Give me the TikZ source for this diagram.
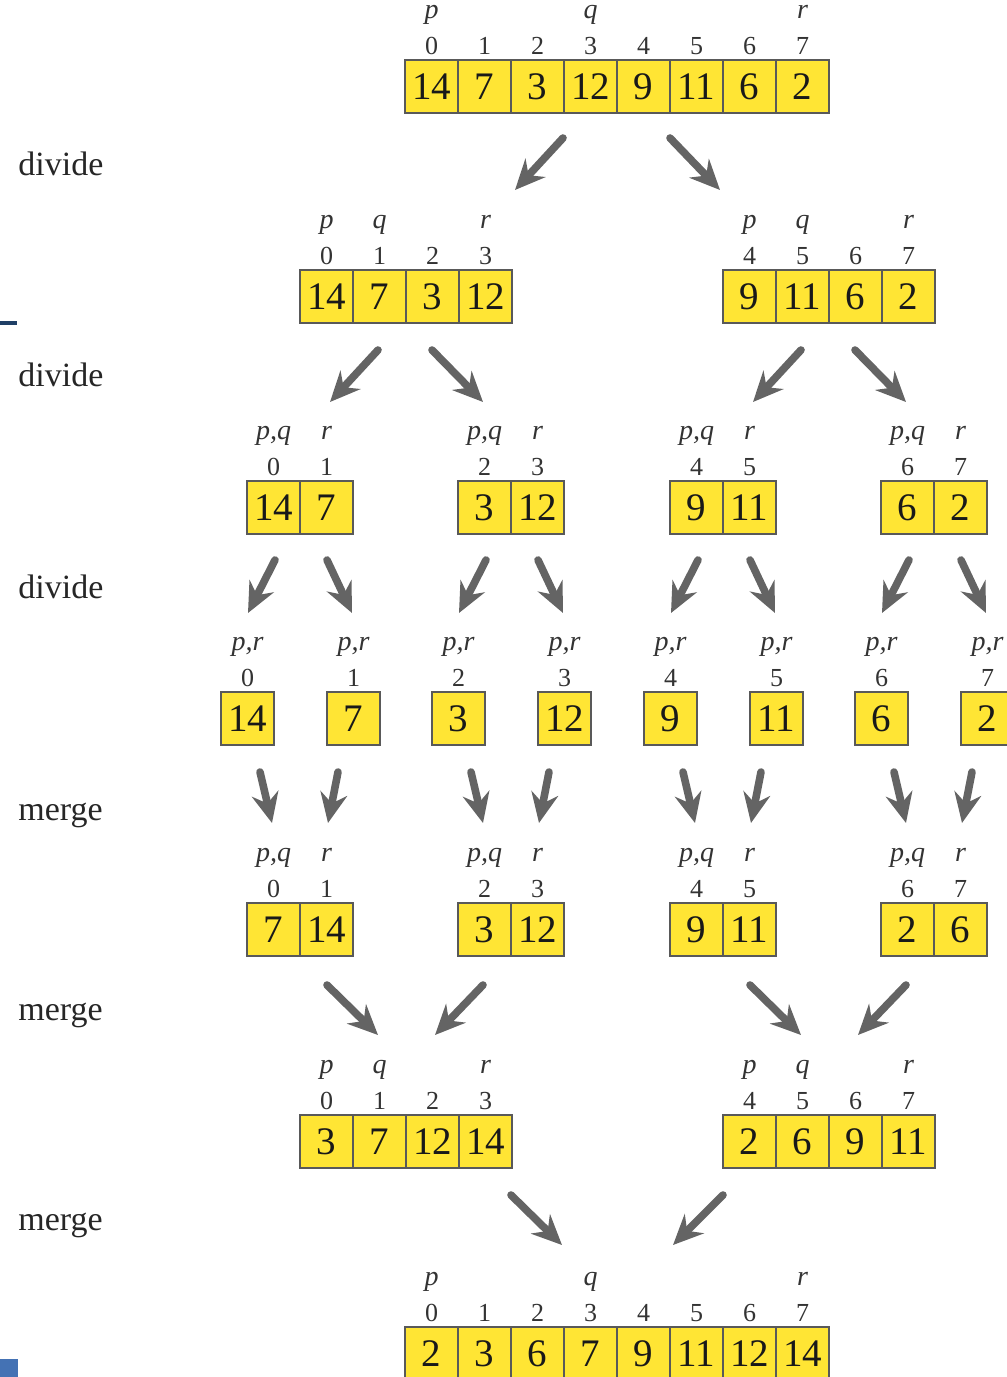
\documentclass[tikz,border=0pt]{standalone}
\usepackage{fontspec}
\setmainfont{Liberation Serif}
\usetikzlibrary{arrows.meta}
\definecolor{cellyellow}{HTML}{FFE534}
\definecolor{arrgray}{HTML}{646464}
\definecolor{navyline}{HTML}{1F3F66}
\definecolor{bluebox}{HTML}{4472B4}
\tikzset{
  cell/.style={draw=black!65, line width=0.7pt, fill=cellyellow, minimum width=26.5pt,
    minimum height=26.5pt, inner sep=0pt, font=\fontsize{19.5}{19.5}\selectfont, text=black!90},
  idx/.style={font=\fontsize{13}{13}\selectfont, text=black!80, inner sep=0pt, anchor=base},
  lab/.style={font=\fontsize{14}{14}\selectfont\itshape, text=black!80, inner sep=0pt, anchor=base},
  side/.style={font=\fontsize{17}{17}\selectfont, text=black!85, anchor=base west, inner sep=0pt},
  bigarrow/.style={draw=arrgray, line width=3.8pt, line cap=round,
    -{Stealth[length=15pt,width=13.5pt,inset=5pt]}},
}
% #1 name, #2 left x, #3 top y, #4 values, #5 first index, #6 labels
\newcommand{\drawarr}[6]{%
  \foreach \v [count=\i from 0] in {#4} {
    \pgfmathtruncatemacro\ix{#5+\i}
    \node[cell] (#1-\i) at ({#2+26.5+53*\i}, {#3+26.5}) {\v};
    \node[idx] (#1-i\i) at ({#2+26.5+53*\i}, {#3-6}) {\ix};
  }
  \foreach \k/\t in {#6} {
    \node[lab] (#1-l\k) at ({#2+26.5+53*\k}, {#3-42}) {\t};
  }
}
\begin{document}
\begin{tikzpicture}[x=0.5pt, y=-0.5pt]
\useasboundingbox (0,0) rectangle (1007,1377);
\clip (0,0) rectangle (1007,1377);

% artifacts at left edge
\fill[navyline] (0,321) rectangle (17,325);
\fill[bluebox] (0,1359) rectangle (18,1377);

% side labels
\node[side] (d1) at (18,175) {divide};
\node[side] (d2) at (18,386) {divide};
\node[side] (d3) at (18,598) {divide};
\node[side] (m1) at (18,820) {merge};
\node[side] (m2) at (18,1020) {merge};
\node[side] (m3) at (18,1230) {merge};

% level 1
\drawarr{A}{405}{60}{14,7,3,12,9,11,6,2}{0}{0/p,3/q,7/r}
% level 2
\drawarr{BL}{300}{270}{14,7,3,12}{0}{0/p,1/q,3/r}
\drawarr{BR}{723}{270}{9,11,6,2}{4}{0/p,1/q,3/r}
% level 3
\drawarr{C1}{247}{481}{14,7}{0}{0/{p,q},1/r}
\drawarr{C2}{458}{481}{3,12}{2}{0/{p,q},1/r}
\drawarr{C3}{670}{481}{9,11}{4}{0/{p,q},1/r}
\drawarr{C4}{881}{481}{6,2}{6}{0/{p,q},1/r}
% level 4
\drawarr{D1}{221}{692}{14}{0}{0/{p,r}}
\drawarr{D2}{327}{692}{7}{1}{0/{p,r}}
\drawarr{D3}{432}{692}{3}{2}{0/{p,r}}
\drawarr{D4}{538}{692}{12}{3}{0/{p,r}}
\drawarr{D5}{644}{692}{9}{4}{0/{p,r}}
\drawarr{D6}{750}{692}{11}{5}{0/{p,r}}
\drawarr{D7}{855}{692}{6}{6}{0/{p,r}}
\drawarr{D8}{961}{692}{2}{7}{0/{p,r}}
% level 5
\drawarr{E1}{247}{903}{7,14}{0}{0/{p,q},1/r}
\drawarr{E2}{458}{903}{3,12}{2}{0/{p,q},1/r}
\drawarr{E3}{670}{903}{9,11}{4}{0/{p,q},1/r}
\drawarr{E4}{881}{903}{2,6}{6}{0/{p,q},1/r}
% level 6
\drawarr{FL}{300}{1115}{3,7,12,14}{0}{0/p,1/q,3/r}
\drawarr{FR}{723}{1115}{2,6,9,11}{4}{0/p,1/q,3/r}
% level 7
\drawarr{G}{405}{1327}{2,3,6,7,9,11,12,14}{0}{0/p,3/q,7/r}

% arrows level 1 -> 2
\coordinate (a1s) at (563,138); \coordinate (a1e) at (515,190);
\coordinate (a2s) at (670,138); \coordinate (a2e) at (720,190);
\draw[bigarrow] (a1s) -- (a1e);
\draw[bigarrow] (a2s) -- (a2e);

% arrows level 2 -> 3 and level 5 -> 6
\foreach \o [count=\n] in {0,423} {
  \coordinate (b\n ls) at (378+\o,350); \coordinate (b\n le) at (330+\o,402);
  \coordinate (b\n rs) at (432+\o,350); \coordinate (b\n re) at (483+\o,402);
  \draw[bigarrow] (b\n ls) -- (b\n le);
  \draw[bigarrow] (b\n rs) -- (b\n re);
  \coordinate (e\n ls) at (327+\o,985); \coordinate (e\n le) at (378+\o,1035);
  \coordinate (e\n rs) at (483+\o,985); \coordinate (e\n re) at (435+\o,1035);
  \draw[bigarrow] (e\n ls) -- (e\n le);
  \draw[bigarrow] (e\n rs) -- (e\n re);
}

% arrows level 3 -> 4 and 4 -> 5
\foreach \L [count=\n] in {247,458,670,881} {
  \coordinate (c\n ls) at (\L+28,560); \coordinate (c\n le) at (\L+1,613);
  \coordinate (c\n rs) at (\L+80,560); \coordinate (c\n re) at (\L+105,613);
  \draw[bigarrow] (c\n ls) -- (c\n le);
  \draw[bigarrow] (c\n rs) -- (c\n re);
  \coordinate (d\n ls) at (\L+13,772); \coordinate (d\n le) at (\L+25,823);
  \coordinate (d\n rs) at (\L+91,772); \coordinate (d\n re) at (\L+81,823);
  \draw[bigarrow] (d\n ls) -- (d\n le);
  \draw[bigarrow] (d\n rs) -- (d\n re);
}

% arrows level 6 -> 7
\coordinate (f1s) at (511,1195); \coordinate (f1e) at (562,1245);
\coordinate (f2s) at (723,1195); \coordinate (f2e) at (673,1245);
\draw[bigarrow] (f1s) -- (f1e);
\draw[bigarrow] (f2s) -- (f2e);
\end{tikzpicture}
\end{document}
